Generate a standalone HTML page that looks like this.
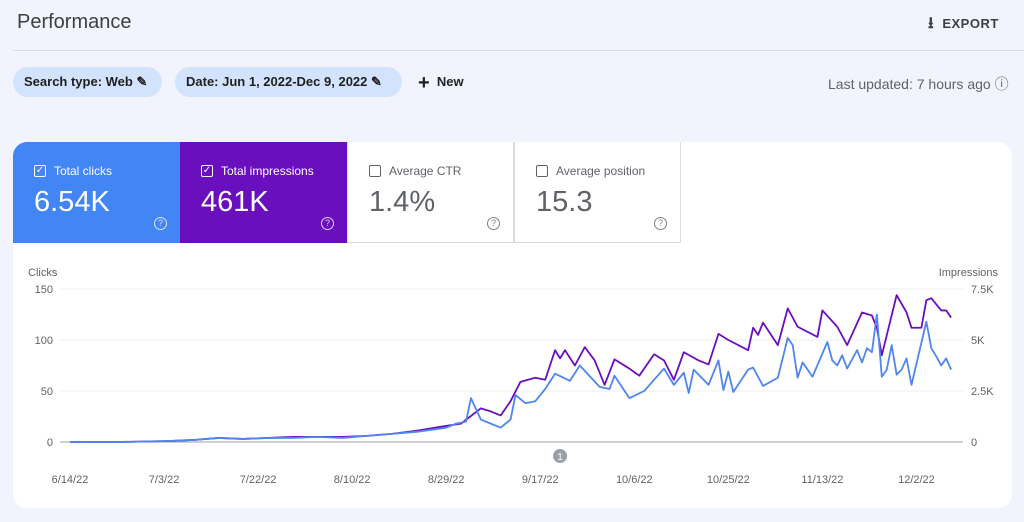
<!DOCTYPE html>
<html><head><meta charset="utf-8"><style>
body{margin:0;width:1024px;height:522px;background:#f1f4fd;font-family:"Liberation Sans",sans-serif;position:relative;overflow:hidden;color:#202124}
.abs{position:absolute}
.chip{position:absolute;top:67px;height:30px;border-radius:15px;background:#d3e3fd;font-size:13px;line-height:30px;padding:0 15px 0 11px;color:#1f1f1f;font-weight:bold}
.tile{position:absolute;top:142px;height:101px;width:167px;box-sizing:border-box}
.tile .lbl{position:absolute;left:21px;top:22px;font-size:12px}
.tile .cb{position:absolute;left:21px;top:23px;width:10px;height:10px;border:1.5px solid currentColor;border-radius:2px;font-size:10px;line-height:10px;text-align:center}
.tile .lbl span{margin-left:20px}
.tile .val{position:absolute;left:21px;top:44px;font-size:29px}
.tile .q{position:absolute;right:13px;top:75px;width:11px;height:11px;border:1px solid currentColor;border-radius:50%;font-size:9px;line-height:11px;text-align:center;opacity:.8}
</style></head><body>
<div class="abs" style="left:17px;top:11px;font-size:20px;color:#3c4043">Performance</div>
<div class="abs" style="left:928px;top:12px;font-size:13px;color:#3c4043;font-weight:bold;letter-spacing:.5px"><span style="font-size:16px">⭳</span>&nbsp; EXPORT</div>
<div class="abs" style="left:13px;top:50px;width:1011px;height:1px;background:#dadce0"></div>
<div class="chip" style="left:13px">Search type: Web ✎</div>
<div class="chip" style="left:175px;padding-right:20px">Date: Jun 1, 2022-Dec 9, 2022 ✎</div>
<div class="abs" style="left:418px;top:72px;font-size:13px;font-weight:bold"><span style="font-size:20px;vertical-align:-3px">+</span>&nbsp; New</div>
<div class="abs" style="left:828px;top:74px;font-size:14px;color:#5f6368">Last updated: 7 hours ago ⓘ</div>
<div class="abs" style="left:13px;top:142px;width:999px;height:366px;background:#fff;border-radius:14px"></div>
<div class="tile" style="left:13px;background:#4285f4;color:#fff;border-top-left-radius:14px"><div class="cb">✓</div><div class="lbl"><span>Total clicks</span></div><div class="val">6.54K</div><div class="q">?</div></div>
<div class="tile" style="left:180px;background:#6a0fbd;color:#fff"><div class="cb">✓</div><div class="lbl"><span>Total impressions</span></div><div class="val">461K</div><div class="q">?</div></div>
<div class="tile" style="left:347px;background:#fff;color:#5f6368;border:1px solid #dadce0;border-top:none"><div class="cb"></div><div class="lbl"><span>Average CTR</span></div><div class="val">1.4%</div><div class="q">?</div></div>
<div class="tile" style="left:514px;background:#fff;color:#5f6368;border:1px solid #dadce0;border-top:none"><div class="cb"></div><div class="lbl"><span>Average position</span></div><div class="val">15.3</div><div class="q">?</div></div>
<svg class="abs" style="left:0;top:0" width="1024" height="522" id="chart"></svg>
<script>
const xTickLabels=["6/14/22","7/3/22","7/22/22","8/10/22","8/29/22","9/17/22","10/6/22","10/25/22","11/13/22","12/2/22"];
const clickTicks=[0,50,100,150];
const imprTickLabels=["0","2.5K","5K","7.5K"];
const clickDays=[0,10,20,25,30,35,40,45,50,55,60,65,70,76,78,80,81,83,85,87,89,90,92,94,96,98,101,103,107,109,110,113,116,120,122,124,125,126,129,131,132,133,134,137,138,140,143,145,146,147,148,150,153,154,155,156,157,159,160,161,162,163,164,165,166,167,168,169,170,173,174,175,176,177,178];
const clicks=[0,0,1,2,4,3,4,4,5,4,6,8,10,14,18,20,43,22,18,14,22,46,38,40,52,67,60,75,54,52,65,43,50,72,56,68,48,71,56,80,51,69,49,71,73,55,63,102,95,63,78,64,98,80,75,85,72,90,78,92,88,125,64,71,95,66,71,82,56,118,92,84,75,82,71];
const imprDays=[0,10,20,25,30,35,40,45,50,55,60,65,70,75,79,83,85,87,89,91,94,96,98,99,100,102,104,106,108,110,113,115,118,120,122,124,127,129,131,133,137,138,139,140,143,145,147,151,152,155,157,160,162,163,164,167,169,170,172,173,174,176,177,178];
const impressions=[0,0,50,100,200,150,200,250,250,250,300,400,550,750,900,1650,1500,1300,2000,2950,3150,3050,4500,4100,4500,3750,4650,4000,2800,4050,3600,3250,4300,4000,3050,4400,4000,3800,5300,5000,4500,5600,5250,5850,4750,6550,5650,5150,6450,5650,4750,6350,6200,5600,4250,7200,6350,5600,5600,6950,7050,6450,6450,6100];
const NS="http://www.w3.org/2000/svg",svg=document.getElementById('chart');
const X=d=>70+d*4.95, Y=v=>442-v*1.02, YI=v=>Y(v/50);
function mk(t,a,txt){const e=document.createElementNS(NS,t);for(const k in a)e.setAttribute(k,a[k]);if(txt!=null)e.textContent=txt;svg.appendChild(e);return e;}
clickTicks.forEach((v,i)=>{
 const g=mk('line',{x1:60,x2:963,y1:Y(v),y2:Y(v),stroke:v?'#eceff1':'#9aa0a6','stroke-width':1});
 
 
 const t=mk('text',{x:53,y:Y(v)+4,'text-anchor':'end','font-size':11,fill:'#5f6368'},String(v));
 
 
 const t2=mk('text',{x:971,y:Y(v)+4,'font-size':11,fill:'#5f6368'},imprTickLabels[i]);
 
 
});
let a=mk('text',{x:28,y:276,'font-size':11,fill:'#5f6368'},'Clicks');


a=mk('text',{x:998,y:276,'font-size':11,fill:'#5f6368','text-anchor':'end'},'Impressions');


xTickLabels.forEach((l,i)=>{
 const t=mk('text',{x:X(i*19),y:483,'text-anchor':'middle','font-size':11,fill:'#5f6368'},l);
 
 
});
a=mk('circle',{cx:X(99),cy:456,r:7,fill:'#9aa0a6'});


a=mk('text',{x:X(99),y:460,'text-anchor':'middle','font-size':10,fill:'#fff'},'1');


let p=mk('polyline',{points:imprDays.map((d,i)=>X(d)+','+YI(impressions[i])).join(' '),fill:'none',stroke:'#6a0fbd','stroke-width':1.8,'stroke-linejoin':'round'});


p=mk('polyline',{points:clickDays.map((d,i)=>X(d)+','+Y(clicks[i])).join(' '),fill:'none',stroke:'#4f86ee','stroke-width':1.8,'stroke-linejoin':'round'});


</script>
</body></html>
